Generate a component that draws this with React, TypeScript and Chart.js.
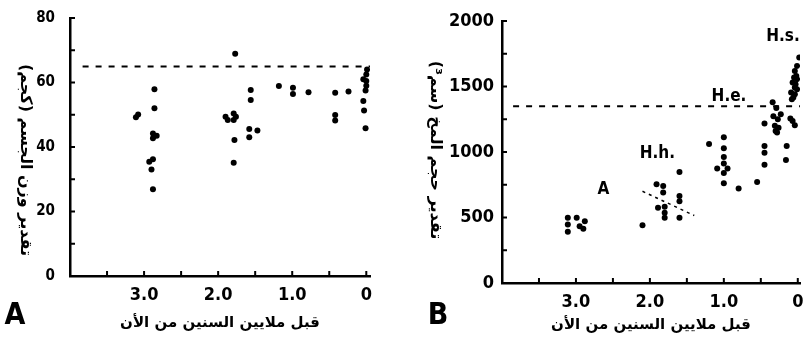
import React, { useEffect, useRef } from "react";
import { Chart, registerables } from "chart.js";

Chart.register(...registerables);

// ---------- shared axis data ----------
const xTickValues = [3, 2, 1, 0];
const xTickLabels = ["3.0", "2.0", "1.0", "0"];
const xMinorTicks = [4, 3.5, 3, 2.5, 2, 1.5, 1, 0.5, 0];
const xTitle = "قبل ملايين السنين من الأن";

// ---------- panel A: body mass ----------
const massTickValues = [0, 20, 40, 60, 80];
const massMinorTicks = [0, 10, 20, 30, 40, 50, 60, 70, 80];
const massTitle = "تقدير وزن الجسم (كجم)";
const massRefValue = 65;
const massRefFrom = 3.83;
const massRefTo = -0.05;
const massAge = [
  3.11, 3.08, 2.86, 2.86, 2.88, 2.83, 2.88, 2.93, 2.88, 2.9, 2.88,
  1.77, 1.9, 1.87, 1.79, 1.76, 1.79, 1.78, 1.79,
  1.56, 1.56, 1.58, 1.47, 1.58,
  1.18, 0.99, 0.99, 0.78, 0.42, 0.24, 0.42, 0.42,
  -0.01, 0.0, 0.04, 0.0, 0.0, 0.01, 0.04, 0.03, 0.01,
];
const massKg = [
  49.2, 50.1, 57.9, 52, 44.2, 43.5, 42.7, 35.4, 36.2, 33, 26.9,
  68.9, 49.4, 48.4, 50.4, 49.4, 48.4, 42.2, 35.1,
  57.7, 54.6, 45.6, 45.1, 43,
  58.9, 58.4, 56.4, 57, 56.8, 57.2, 49.9, 48.2,
  64, 62.5, 61, 60.5, 59, 57.5, 54.3, 51.3, 45.8,
];

// ---------- panel B: brain volume ----------
const brainTickValues = [0, 500, 1000, 1500, 2000];
const brainMinorTicks = [0, 250, 500, 750, 1000, 1250, 1500, 1750, 2000];
const brainTitle = "تقدير حجم المخ (سم³)";
const brainRefValue = 1350;
const brainRefFrom = 3.85;
const brainRefTo = -0.03;
const brainAge = [
  3.11, 3.11, 3.11, 2.99, 2.88, 2.95, 2.9,
  2.1,
  1.91, 1.82, 1.82, 1.89, 1.8, 1.8, 1.8,
  1.6, 1.6, 1.6, 1.6,
  1.2, 1.0, 1.0, 1.0, 1.0, 1.09, 0.95, 1.0, 1.0,
  0.8, 0.55,
  0.45, 0.45, 0.45, 0.45,
  0.34, 0.29, 0.23, 0.33, 0.27, 0.31, 0.26, 0.3, 0.28,
  0.1, 0.07, 0.04, 0.15, 0.16,
  -0.02, 0.01, 0.04, 0.02, 0.05, 0.01, 0.07, 0.03, 0.04, 0.01, 0.09, 0.04, 0.06, 0.08,
];
const brainCc = [
  498, 447, 391, 498, 472, 434, 414,
  440,
  753, 740, 690, 575, 583, 537, 498,
  847, 664, 625, 498,
  1062, 1112, 1028, 961, 912, 874, 874, 840, 761,
  721, 771,
  1218, 1046, 995, 903,
  1380, 1335, 1288, 1272, 1250, 1200, 1185, 1160, 1148,
  1255, 1237, 1205, 1046, 938,
  1722, 1657, 1619, 1581, 1569, 1556, 1530, 1517, 1492, 1479, 1454, 1441, 1416, 1403,
];
const hhTrendAge = [2.1, 1.4];
const hhTrendCc = [700, 515];
const groupNames = ["A", "H.h.", "H.e.", "H.s."];
const groupAge = [2.63, 1.9, 0.93, 0.2];
const groupCc = [715, 985, 1420, 1880];

const NARROW = '"Liberation Sans Narrow", "DejaVu Sans Condensed", "Arial Narrow", sans-serif';
const ARABIC = '"DejaVu Sans", sans-serif';

type PanelCfg = {
  letter: string;
  letterX: number;
  yTitle: string;
  yTitleX: number;
  yTitleY: number;
  yMax: number;
  yTicks: number[];
  yMinor: number[];
  yFontSize: number;
  yPad: number;
  yWidth: number;
  xHeight: number;
  xMin: number;
  padTop: number;
  padRight: number;
  titlePad: number;
  datasets: any[];
  notes?: { text: string[]; x: number[]; y: number[] };
};

function buildChart(canvas: HTMLCanvasElement, cfg: PanelCfg) {
  const decor = {
    id: "decor",
    afterDraw(chart: any) {
      const ctx = chart.ctx as CanvasRenderingContext2D;
      const { left, bottom } = chart.chartArea;
      const xs = chart.scales.x;
      const ys = chart.scales.y;
      ctx.save();
      ctx.strokeStyle = "#000";
      ctx.lineWidth = 2;
      ctx.beginPath();
      xMinorTicks.forEach((v) => {
        const px = xs.getPixelForValue(v);
        ctx.moveTo(px, bottom);
        ctx.lineTo(px, bottom - 5);
      });
      cfg.yMinor.forEach((v) => {
        const py = ys.getPixelForValue(v);
        ctx.moveTo(left, py);
        ctx.lineTo(left + 5, py);
      });
      ctx.stroke();

      // group labels
      if (cfg.notes) {
        ctx.fillStyle = "#000";
        ctx.font = `bold 17px ${NARROW}`;
        ctx.textAlign = "center";
        ctx.textBaseline = "middle";
        cfg.notes.text.forEach((t, i) => {
          ctx.fillText(t, xs.getPixelForValue(cfg.notes!.x[i]), ys.getPixelForValue(cfg.notes!.y[i]));
        });
      }

      // panel letter
      ctx.fillStyle = "#000";
      ctx.font = `bold 30px ${NARROW}`;
      ctx.textAlign = "center";
      ctx.textBaseline = "middle";
      ctx.fillText(cfg.letter, cfg.letterX, 316);

      // rotated y title
      ctx.translate(cfg.yTitleX, cfg.yTitleY);
      ctx.rotate(Math.PI / 2);
      (ctx as any).direction = "rtl";
      ctx.font = `bold 16px ${ARABIC}`;
      ctx.textAlign = "center";
      ctx.textBaseline = "middle";
      ctx.fillText(cfg.yTitle, 0, 0);
      ctx.restore();
    },
  };

  return new Chart(canvas, {
    type: "scatter",
    data: { datasets: cfg.datasets },
    options: {
      animation: false,
      responsive: false,
      devicePixelRatio: 1,
      layout: { padding: { top: cfg.padTop, right: cfg.padRight, left: 0, bottom: 0 } },
      plugins: { legend: { display: false }, tooltip: { enabled: false } },
      scales: {
        x: {
          type: "linear",
          reverse: true,
          min: cfg.xMin,
          max: 4,
          afterBuildTicks: (s: any) => {
            s.ticks = xTickValues.map((v) => ({ value: v }));
          },
          afterFit: (s: any) => {
            s.height = cfg.xHeight;
            s.paddingLeft = 0;
            s.paddingRight = 0;
          },
          grid: { display: false, drawTicks: false },
          border: { display: true, color: "#000", width: 2.5 },
          ticks: {
            color: "#000",
            padding: 9,
            maxRotation: 0,
            autoSkip: false,
            font: { family: NARROW, size: 18, weight: "bold" },
            callback: (_v: any, i: number) => xTickLabels[i],
          },
          title: {
            display: true,
            text: xTitle,
            color: "#000",
            font: { family: ARABIC, size: 15, weight: "bold" },
            padding: { top: 0, bottom: cfg.titlePad },
          },
        },
        y: {
          type: "linear",
          min: 0,
          max: cfg.yMax,
          afterBuildTicks: (s: any) => {
            s.ticks = cfg.yTicks.map((v) => ({ value: v }));
          },
          afterFit: (s: any) => {
            s.width = cfg.yWidth;
            s.paddingTop = 0;
            s.paddingBottom = 0;
          },
          grid: { display: false, drawTicks: false },
          border: { display: true, color: "#000", width: 2.5 },
          ticks: {
            color: "#000",
            padding: cfg.yPad,
            autoSkip: false,
            font: { family: NARROW, size: cfg.yFontSize, weight: "bold" },
            callback: (v: any) => String(v),
          },
        },
      },
    },
    plugins: [decor],
  } as any);
}

function Panel({ cfg, left }: { cfg: PanelCfg; left: number }) {
  const ref = useRef<HTMLCanvasElement | null>(null);
  useEffect(() => {
    if (!ref.current) return;
    const chart = buildChart(ref.current, cfg);
    return () => chart.destroy();
  }, []);
  return (
    <canvas
      ref={ref}
      width={402}
      height={340}
      style={{ position: "absolute", left, top: 0, width: 402, height: 340 }}
    />
  );
}

const dotStyle = {
  pointRadius: 3,
  pointBackgroundColor: "#000",
  pointBorderWidth: 0,
  showLine: false,
};

const massCfg: PanelCfg = {
  letter: "A",
  letterX: 15,
  yTitle: massTitle,
  yTitleX: 25,
  yTitleY: 160,
  yMax: 80,
  yTicks: massTickValues,
  yMinor: massMinorTicks,
  yFontSize: 15,
  yPad: 15,
  yWidth: 70,
  xHeight: 64,
  xMin: -0.05,
  padTop: 18,
  padRight: 32,
  titlePad: 8,
  datasets: [
    {
      ...dotStyle,
      data: massAge.map((a, i) => ({ x: a, y: massKg[i] })),
    },
    {
      type: "line",
      data: [
        { x: massRefFrom, y: massRefValue },
        { x: massRefTo, y: massRefValue },
      ],
      borderColor: "#000",
      borderWidth: 2,
      borderDash: [6, 7],
      pointRadius: 0,
      showLine: true,
      fill: false,
    },
  ],
};

const brainCfg: PanelCfg = {
  letter: "B",
  letterX: 36,
  yTitle: brainTitle,
  yTitleX: 33,
  yTitleY: 150,
  yMax: 2000,
  yTicks: brainTickValues,
  yMinor: brainMinorTicks,
  yFontSize: 18,
  yPad: 8,
  yWidth: 100,
  xHeight: 57,
  xMin: brainRefTo,
  padTop: 21,
  padRight: 2,
  titlePad: 6,
  notes: { text: groupNames, x: groupAge, y: groupCc },
  datasets: [
    {
      ...dotStyle,
      data: brainAge.map((a, i) => ({ x: a, y: brainCc[i] })),
    },
    {
      type: "line",
      data: [
        { x: brainRefFrom, y: brainRefValue },
        { x: brainRefTo, y: brainRefValue },
      ],
      borderColor: "#000",
      borderWidth: 2,
      borderDash: [6, 7],
      pointRadius: 0,
      showLine: true,
      fill: false,
    },
    {
      type: "line",
      data: hhTrendAge.map((a, i) => ({ x: a, y: hhTrendCc[i] })),
      borderColor: "#000",
      borderWidth: 1.5,
      borderDash: [3, 4],
      pointRadius: 0,
      showLine: true,
      fill: false,
    },
  ],
};

export default function App() {
  return (
    <div
      style={{
        position: "fixed",
        left: 0,
        top: 0,
        width: 804,
        height: 340,
        background: "#fff",
        overflow: "hidden",
      }}
    >
      <Panel cfg={massCfg} left={0} />
      <Panel cfg={brainCfg} left={402} />
    </div>
  );
}
